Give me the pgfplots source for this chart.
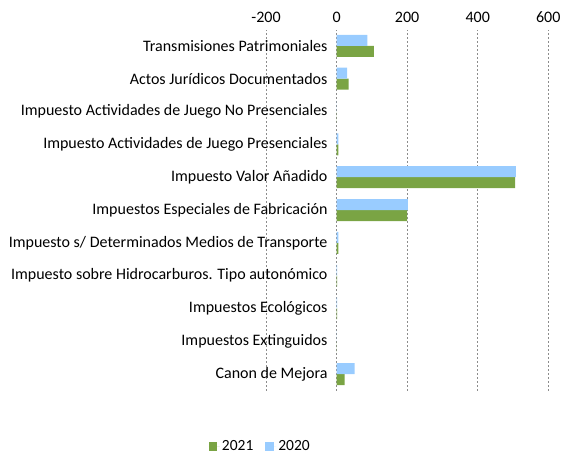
\documentclass[border=0pt]{standalone}
\usepackage{pgfplots}
\pgfplotsset{compat=1.18}
\usepackage{fontspec}
\setmainfont{Carlito}
\definecolor{g21}{RGB}{122,164,68}
\definecolor{b20}{RGB}{153,204,255}
\definecolor{gridc}{RGB}{140,140,140}
\begin{document}
\fontsize{16}{19}\selectfont
\begin{tikzpicture}
\useasboundingbox (-266pt,-68.5pt) rectangle (296pt,390.5pt);
\begin{axis}[
  scale only axis,
  width=282.3pt, height=361pt,
  xbar=0pt, bar width=11pt,
  xmin=-200, xmax=600,
  ymin=-0.5, ymax=10.5,
  xtick={-200,0,200,400,600},
  xticklabel pos=upper,
  ytick={0,...,10},
  yticklabels={Canon de Mejora,Impuestos Extinguidos,Impuestos Ecológicos,Impuesto sobre Hidrocarburos. Tipo autonómico,Impuesto s/ Determinados Medios de Transporte,Impuestos Especiales de Fabricación,Impuesto Valor Añadido,Impuesto Actividades de Juego Presenciales,Impuesto Actividades de Juego No Presenciales,Actos Jurídicos Documentados,Transmisiones Patrimoniales},
  yticklabel style={anchor=east, xshift=67pt, font=\fontsize{16}{19}\selectfont},
  xticklabel style={font=\fontsize{16}{19}\selectfont, yshift=1pt},
  /pgf/number format/assume math mode=true,
  major tick length=0pt,
  axis line style={draw=none},
  xmajorgrids,
  grid style={gridc, dash pattern=on 2pt off 2pt, line width=0.6pt},
  legend style={at={(-0.02,-0.156)}, anchor=center, draw=none, fill=none,
    legend columns=-1, font=\fontsize{15.5}{18}\selectfont,
    /tikz/every even column/.append style={column sep=10pt}},
  legend image code/.code={\fill[#1] (0pt,-4pt) rectangle (8.5pt,4.5pt);
    \path (0pt,0pt) -- (11pt,0pt);},
]
\addplot[fill=g21, draw=none] coordinates {
(106,10) (34,9) (0,8) (5,7) (506,6) (200,5) (5,4) (1.5,3) (1.5,2) (0,1) (23,0)};
\addlegendentry{2021}
\addplot[fill=b20, draw=none] coordinates {
(87,10) (30,9) (0,8) (5,7) (508,6) (202,5) (5,4) (1.5,3) (1.5,2) (0,1) (51,0)};
\addlegendentry{2020}
\end{axis}
\end{tikzpicture}
\end{document}
